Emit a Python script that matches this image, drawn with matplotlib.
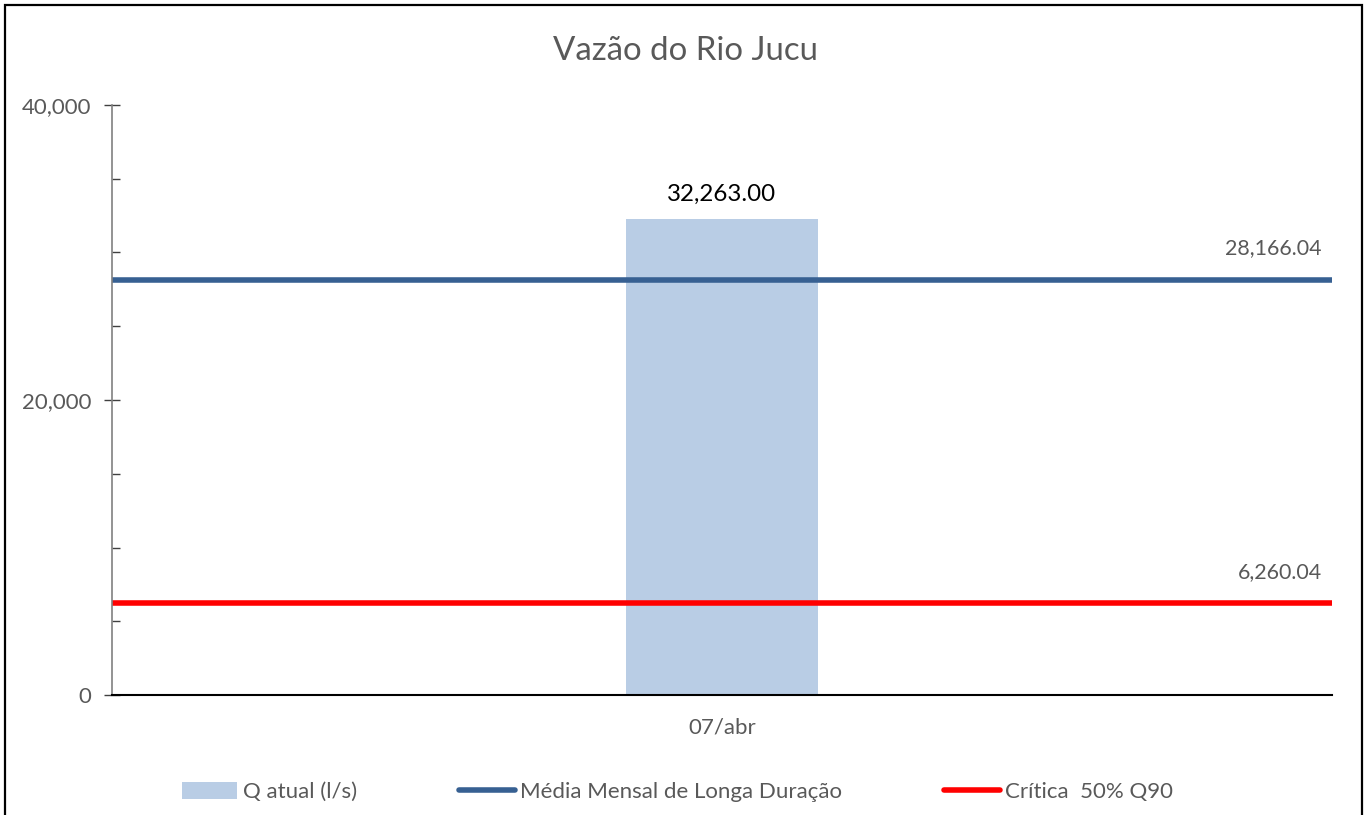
import matplotlib
matplotlib.use("Agg")
import matplotlib.pyplot as plt
from matplotlib.patches import Rectangle
from matplotlib.ticker import FuncFormatter, MultipleLocator

categories = ["07/abr"]
q_atual = [32263.00]
media_longa = 28166.04
critica = 6260.04
y_ticks = [0, 20000, 40000]

FONT = ["Lato", "DejaVu Sans"]
plt.rcParams["font.family"] = FONT
GRAY = "#595959"

fig = plt.figure(figsize=(13.67, 8.15), dpi=100)
ax = fig.add_axes([112/1367, 1-695/815, (1332-112)/1367, (695-105)/815])

x = list(range(len(categories)))
h_bar = ax.bar(x, q_atual, width=0.157, color="#B9CDE5", zorder=2,
               label="Q atual (l/s)")
h_med = ax.axhline(media_longa, color="#376092", lw=4, zorder=3,
                   label="Média Mensal de Longa Duração", solid_capstyle="round")
h_cri = ax.axhline(critica, color="#FF0000", lw=4, zorder=3,
                   label="Crítica  50% Q90", solid_capstyle="round")

ax.set_xlim(-0.5, 0.5)
ax.set_ylim(0, 40000)
ax.set_xticks(x)
ax.set_xticklabels(categories)
ax.set_yticks(y_ticks)
ax.yaxis.set_minor_locator(MultipleLocator(5000))
ax.yaxis.set_major_formatter(FuncFormatter(lambda v, p: f"{v:,.0f}"))

ax.tick_params(axis="y", which="major", direction="inout", length=12,
               width=1, color="#404040", labelsize=16, labelcolor=GRAY, pad=9)
ax.tick_params(axis="y", which="minor", direction="in", length=6,
               width=1, color="#404040")
ax.tick_params(axis="x", length=0, labelsize=16, labelcolor=GRAY, pad=16)

for s in ["top", "right"]:
    ax.spines[s].set_visible(False)
ax.spines["left"].set_color("#808080")
ax.spines["left"].set_linewidth(1.2)
ax.spines["bottom"].set_color("#000000")
ax.spines["bottom"].set_linewidth(1.5)
ax.spines["left"].set_zorder(5)
ax.spines["bottom"].set_zorder(5)

# data labels
for xi, v in zip(x, q_atual):
    ax.annotate(f"{v:,.2f}", xy=(xi, v), xytext=(0, 25), textcoords="offset pixels",
                ha="center", va="center", fontsize=17.4, color="black")
for v in [media_longa, critica]:
    ax.annotate(f"{v:,.2f}", xy=(1, v), xycoords=("axes fraction", "data"),
                xytext=(-10, 31), textcoords="offset pixels",
                ha="right", va="center", fontsize=15.4, color=GRAY)

fig.text(0.5 + (685-683)/1367, 1-51/815, "Vazão do Rio Jucu", ha="center", va="center",
         fontsize=23.8, color=GRAY)

leg = fig.legend(handles=[h_bar, h_med, h_cri], loc="center",
                 bbox_to_anchor=(677.5/1367, 1-792/815), ncol=3,
                 frameon=False, fontsize=16, handlelength=2.5, handleheight=0.8,
                 handletextpad=0.25, columnspacing=4.6, labelcolor=GRAY)

# outer border
fig.patches.append(Rectangle((5/1367, -0.05), (1362-5)/1367, 1-5/815+0.05,
                             transform=fig.transFigure, fill=False,
                             edgecolor="black", lw=1.6, zorder=10))

fig.savefig("out.png", dpi=100)
